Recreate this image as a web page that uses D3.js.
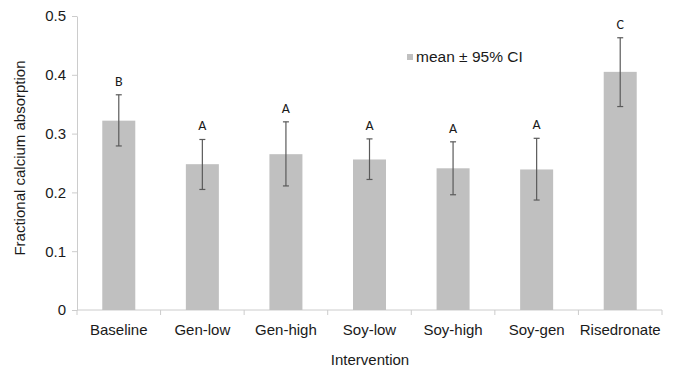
<!DOCTYPE html>
<html>
<head>
<meta charset="utf-8">
<script src="https://cdn.jsdelivr.net/npm/d3@7"></script>
<style>
  body { margin: 0; background: #fff; }
  svg { font-family: "Liberation Sans", Arial, sans-serif; }
</style>
</head>
<body>
<div class="main-container"></div>
<script>
const categories = ["Baseline", "Gen-low", "Gen-high", "Soy-low", "Soy-high", "Soy-gen", "Risedronate"];
const means = [0.322, 0.248, 0.265, 0.256, 0.241, 0.239, 0.405];
const ciLow = [0.279, 0.205, 0.211, 0.222, 0.196, 0.187, 0.346];
const ciHigh = [0.366, 0.290, 0.320, 0.291, 0.286, 0.292, 0.463];
const letters = ["B", "A", "A", "A", "A", "A", "C"];
const yTicks = [0, 0.1, 0.2, 0.3, 0.4, 0.5];

let margin = {top: 16, right: 12, bottom: 61, left: 77},
  width = 674 - margin.left - margin.right,
  height = 371 - margin.top - margin.bottom;

const svg = d3.select(".main-container")
  .append("svg")
  .attr("width", 674)
  .attr("height", 371)
  .append("g")
  .attr("transform", "translate(" + margin.left + "," + margin.top + ")");

const data = categories.map((c, i) => ({
  name: c, mean: means[i], lo: ciLow[i], hi: ciHigh[i], letter: letters[i]
}));

let x = d3.scaleBand()
  .domain(categories)
  .range([0, width])
  .paddingInner(0.605)
  .paddingOuter(0.3025);

let y = d3.scaleLinear()
  .domain([0, 0.5])
  .range([height, 0]);

const axisColor = "#cccccc";
const textColor = "#1a1a1a";

// y axis
const yAxis = svg.append("g")
  .call(d3.axisLeft(y).tickValues(yTicks).tickSize(5).tickSizeOuter(0)
    .tickFormat(d => d === 0 ? "0" : d3.format(".1f")(d)));
yAxis.select(".domain").attr("stroke", axisColor);
yAxis.selectAll(".tick line").attr("stroke", axisColor);
yAxis.selectAll("text").attr("fill", textColor).style("font-size", "15px").attr("x", -11);

// x axis with ticks at band boundaries
const xAxis = svg.append("g")
  .attr("transform", "translate(0," + height + ")");
xAxis.append("line")
  .attr("x1", 0).attr("x2", width)
  .attr("stroke", axisColor);
const step = x.step();
xAxis.selectAll(".sep")
  .data(d3.range(categories.length + 1))
  .enter().append("line")
  .attr("x1", i => x(categories[0]) - x.paddingOuter() * step + i * step)
  .attr("x2", i => x(categories[0]) - x.paddingOuter() * step + i * step)
  .attr("y1", 0).attr("y2", 5)
  .attr("stroke", axisColor);
xAxis.selectAll(".lbl")
  .data(categories)
  .enter().append("text")
  .attr("x", d => x(d) + x.bandwidth() / 2)
  .attr("y", 25)
  .attr("text-anchor", "middle")
  .attr("fill", textColor)
  .style("font-size", "15px")
  .text(d => d);

// bars
svg.selectAll(".bar")
  .data(data)
  .enter().append("rect")
  .attr("x", d => x(d.name))
  .attr("width", x.bandwidth())
  .attr("y", d => y(d.mean))
  .attr("height", d => height - y(d.mean))
  .attr("fill", "#c0c0c0");

// error bars
const err = svg.selectAll(".err")
  .data(data)
  .enter().append("g")
  .attr("stroke", "#5a5a5a")
  .attr("stroke-width", 1.2);
const cx = d => x(d.name) + x.bandwidth() / 2;
err.append("line")
  .attr("x1", cx).attr("x2", cx)
  .attr("y1", d => y(d.lo)).attr("y2", d => y(d.hi));
err.append("line")
  .attr("x1", d => cx(d) - 3).attr("x2", d => cx(d) + 3)
  .attr("y1", d => y(d.hi)).attr("y2", d => y(d.hi));
err.append("line")
  .attr("x1", d => cx(d) - 3).attr("x2", d => cx(d) + 3)
  .attr("y1", d => y(d.lo)).attr("y2", d => y(d.lo));

// significance letters
svg.selectAll(".letter")
  .data(data)
  .enter().append("text")
  .attr("x", cx)
  .attr("y", d => y(d.hi) - 9)
  .attr("text-anchor", "middle")
  .attr("fill", textColor)
  .style("font-family", "Carlito, 'Open Sans', sans-serif")
  .style("font-size", "14px")
  .text(d => d.letter);

// legend
const legend = svg.append("g")
  .attr("transform", "translate(" + (407 - margin.left) + "," + (54 - margin.top) + ")");
legend.append("rect")
  .attr("width", 6).attr("height", 6)
  .attr("fill", "#c0c0c0");
legend.append("text")
  .attr("x", 9).attr("y", 3)
  .attr("dy", "0.35em")
  .attr("fill", textColor)
  .style("font-size", "15.5px")
  .text("mean ± 95% CI");

// axis titles
svg.append("text")
  .attr("transform", "rotate(-90)")
  .attr("x", -(158 - margin.top))
  .attr("y", 20 - margin.left)
  .attr("dy", "0.35em")
  .attr("text-anchor", "middle")
  .attr("fill", textColor)
  .style("font-size", "15px")
  .text("Fractional calcium absorption");

svg.append("text")
  .attr("x", 370 - margin.left)
  .attr("y", 360 - margin.top)
  .attr("dy", "0.35em")
  .attr("text-anchor", "middle")
  .attr("fill", textColor)
  .style("font-size", "15px")
  .text("Intervention");
</script>
</body>
</html>
